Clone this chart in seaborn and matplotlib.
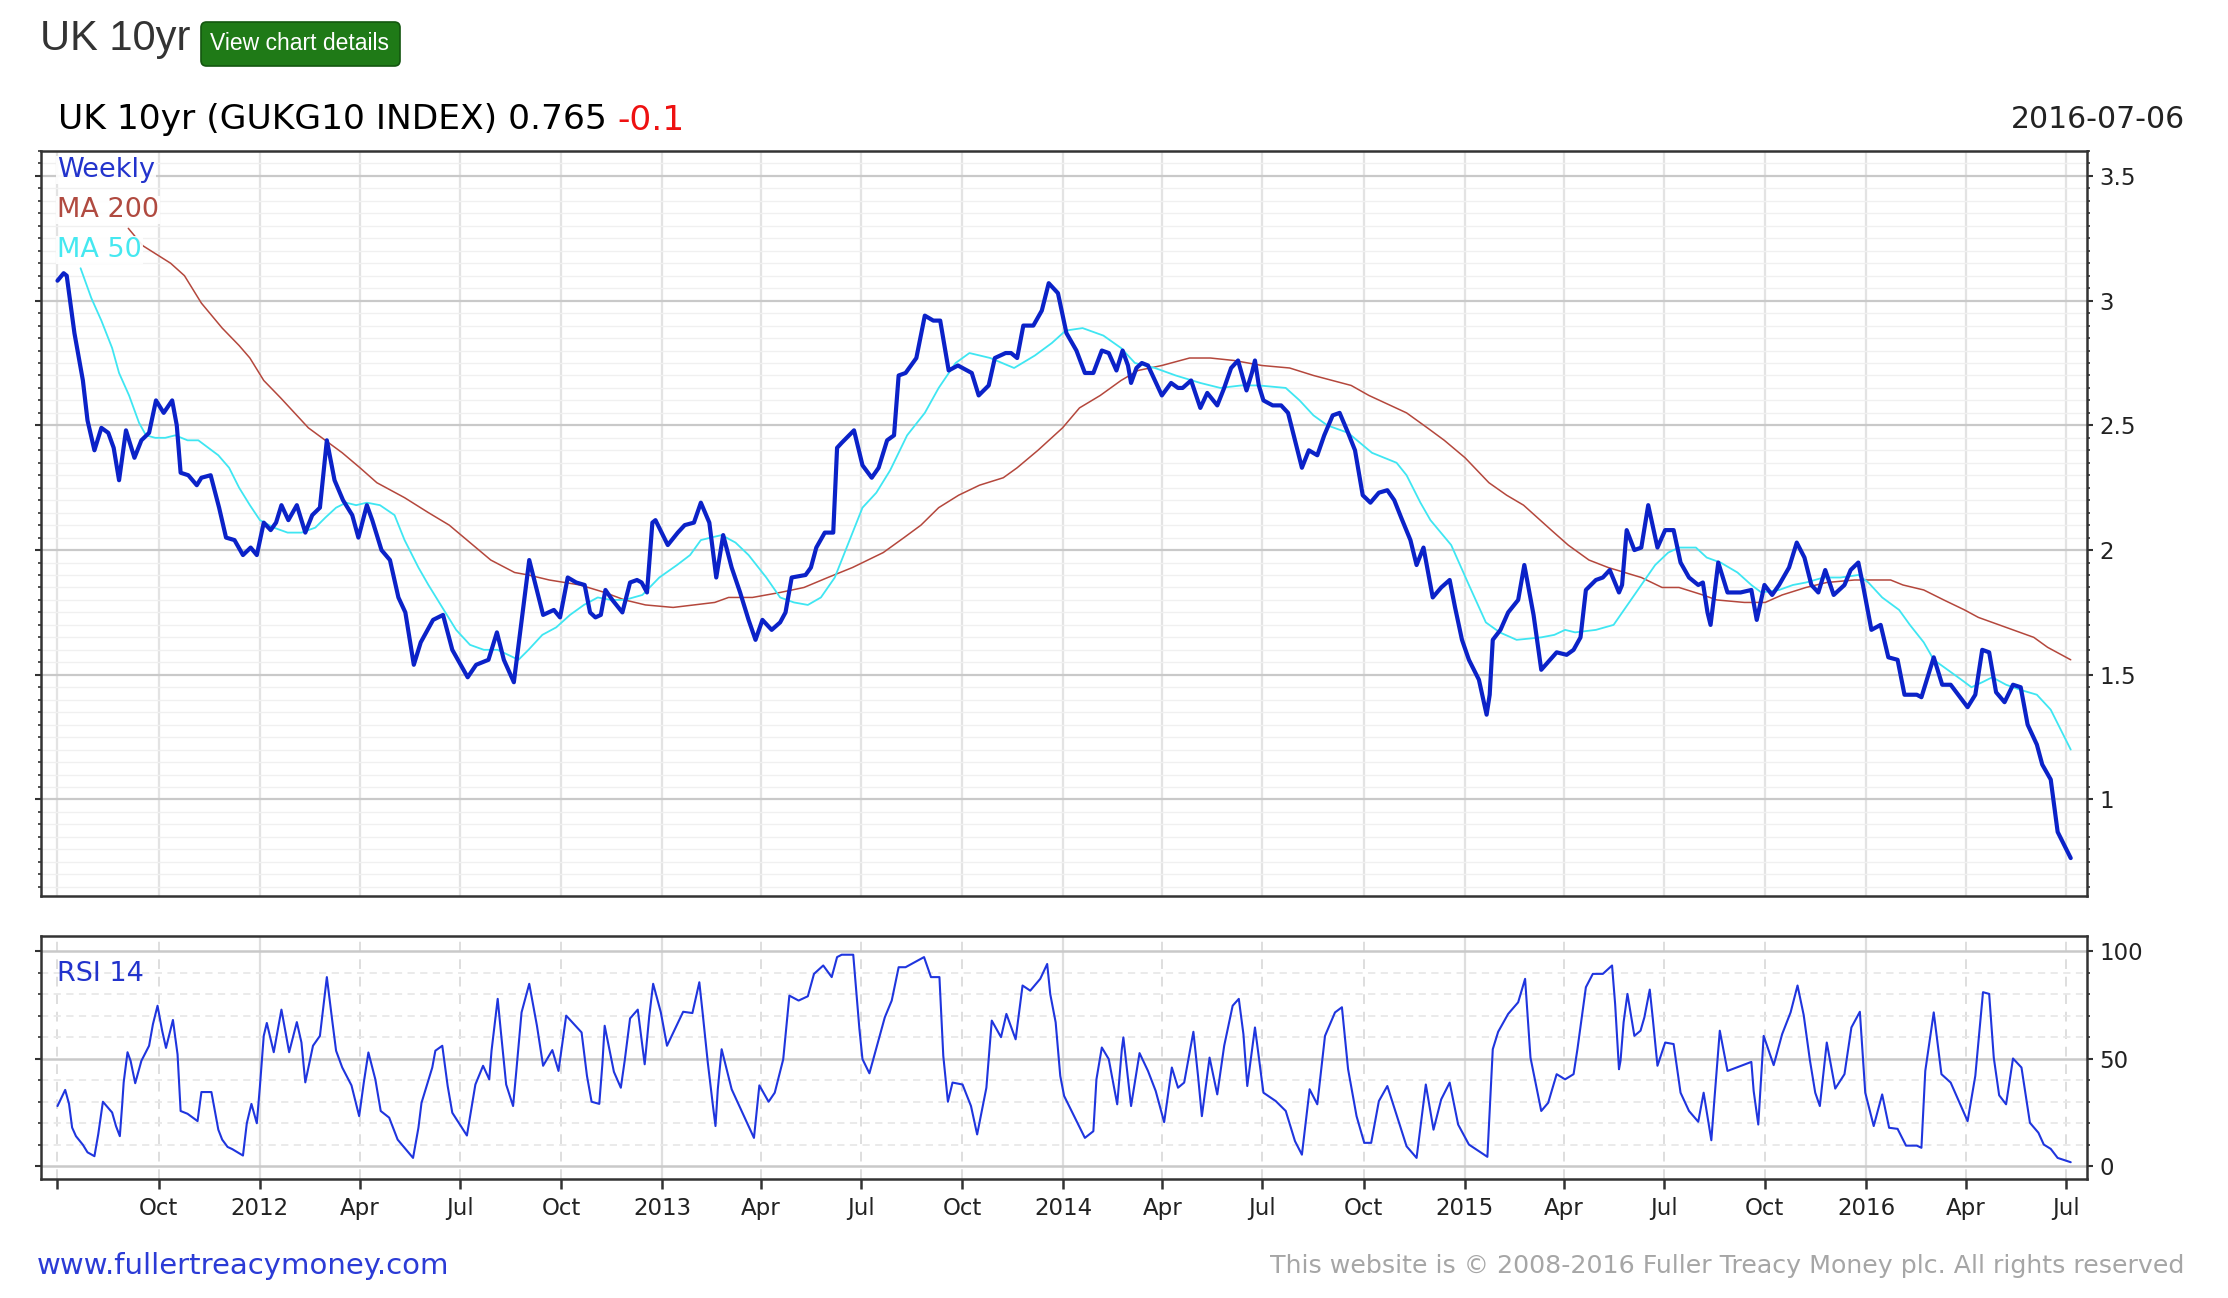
import numpy as np
import pandas as pd
import matplotlib
matplotlib.use("Agg")
import matplotlib.pyplot as plt
import matplotlib.dates as mdates
from matplotlib.ticker import MultipleLocator, FixedLocator, FuncFormatter
from matplotlib.patches import FancyBboxPatch
import seaborn as sns

sns.set_style("white")
plt.rcParams["font.family"] = ["DejaVu Sans"]

# ------------------------------------------------------------
# data: weeks counted from 2011-07-01
# ------------------------------------------------------------
START = pd.Timestamp("2011-07-01")

weekly_wk = [0.0, 0.8, 1.2, 2.2, 3.3, 3.9, 4.8, 5.7, 6.6, 7.3, 8.0, 8.9, 10.0, 10.9, 11.9, 12.8, 13.8,
             14.9, 15.5, 16.0, 17.0, 18.1, 18.7, 19.9, 21.0, 21.9, 23.0, 24.1, 25.1, 25.9, 26.8, 27.7,
             28.4, 29.1, 30.0, 31.1, 32.2, 33.1, 34.1, 35.0, 36.0, 37.1, 38.3, 39.1, 40.2, 40.9, 42.1,
             43.2, 44.3, 45.2, 46.3, 47.2, 48.8, 50.1, 51.3, 53.3, 54.4, 56.0, 57.1, 58.0, 59.3, 60.2,
             61.3, 62.2, 63.1, 64.5, 65.3, 66.3,
             67.4, 68.5, 69.2, 69.9, 70.6, 71.2, 72.1, 73.4, 74.4, 75.3, 75.9, 76.6, 77.3, 77.7, 79.3,
             80.6, 81.5, 82.7, 83.6, 84.7, 85.6, 86.5, 87.6, 88.7, 89.8, 90.7, 91.6, 92.8, 93.9, 94.6,
             95.4, 97.2, 97.9, 98.6, 99.7, 100.8, 101.3, 101.9, 103.5, 104.6, 105.8, 106.7, 107.8, 108.7,
             109.3, 110.2, 111.6, 112.7, 113.8, 114.7, 115.8, 117.0, 118.8, 119.7, 121.0, 121.8, 123.2,
             123.9, 124.7, 125.5, 126.8, 127.9, 128.8, 130.0, 131.1, 132.4,
             133.5, 134.6, 135.7, 136.6, 137.6, 138.4, 139.1, 139.5, 140.2, 140.9, 141.7, 142.6, 143.5,
             144.7, 145.6, 146.2, 147.3, 148.5, 149.4, 150.7, 151.6, 152.5, 153.4, 154.5, 155.2, 155.6,
             156.1, 156.7, 157.9, 159.0, 159.9, 160.8, 161.7, 162.6, 163.7, 164.6, 165.7, 166.6, 167.7,
             168.6, 169.6, 170.6, 171.7, 172.8, 173.7, 174.6, 175.8, 176.6, 177.5, 178.7, 179.8, 180.9,
             181.6, 182.5, 183.4, 184.7, 185.2, 185.7, 186.1, 186.5, 187.5, 188.5, 189.8, 190.6, 191.8,
             192.8, 194.8, 196.1, 197.0, 197.9, 198.6, 199.9, 200.8, 201.7, 202.9,
             203.3, 203.9, 204.9, 205.8, 206.7, 207.9, 208.9, 210.0, 210.9, 212.0, 213.2, 213.8, 214.4,
             214.8, 215.8, 217.0, 218.7, 220.1, 220.8, 221.8, 222.8, 223.7, 225.0, 226.0, 227.0, 227.9,
             228.8, 229.7, 230.8, 232.2, 233.0, 234.0, 234.6, 235.7, 236.9, 237.9, 239.1, 240.0, 241.6,
             242.2, 243.8, 244.9, 246.0, 248.2, 249.2, 250.1, 251.0, 251.9, 253.0, 254.1, 255.1, 256.0,
             257.2, 257.9, 259.0, 259.9, 261.6]
weekly_val = [3.08, 3.11, 3.10, 2.87, 2.68, 2.52, 2.40, 2.49, 2.47, 2.41, 2.28, 2.48, 2.37, 2.44, 2.47, 2.60, 2.55,
              2.60, 2.50, 2.31, 2.30, 2.26, 2.29, 2.30, 2.17, 2.05, 2.04, 1.98, 2.01, 1.98, 2.11, 2.08,
              2.11, 2.18, 2.12, 2.18, 2.07, 2.14, 2.17, 2.44, 2.28, 2.20, 2.14, 2.05, 2.18, 2.12, 2.00,
              1.96, 1.81, 1.75, 1.54, 1.63, 1.72, 1.74, 1.60, 1.49, 1.54, 1.56, 1.67, 1.56, 1.47, 1.69,
              1.96, 1.85, 1.74, 1.76, 1.73, 1.89,
              1.87, 1.86, 1.75, 1.73, 1.74, 1.84, 1.80, 1.75, 1.87, 1.88, 1.87, 1.83, 2.11, 2.12, 2.02,
              2.07, 2.10, 2.11, 2.19, 2.11, 1.89, 2.06, 1.93, 1.83, 1.72, 1.64, 1.72, 1.68, 1.71, 1.75,
              1.89, 1.90, 1.93, 2.01, 2.07, 2.07, 2.41, 2.43, 2.48, 2.34, 2.29, 2.33, 2.44, 2.46,
              2.70, 2.71, 2.77, 2.94, 2.92, 2.92, 2.72, 2.74, 2.71, 2.62, 2.66, 2.77, 2.79,
              2.79, 2.77, 2.90, 2.90, 2.96, 3.07, 3.03, 2.87, 2.80,
              2.71, 2.71, 2.80, 2.79, 2.72, 2.80, 2.74, 2.67, 2.73, 2.75, 2.74, 2.68, 2.62,
              2.67, 2.65, 2.65, 2.68, 2.57, 2.63, 2.58, 2.65, 2.73, 2.76, 2.64, 2.71, 2.76,
              2.66, 2.60, 2.58, 2.58, 2.55, 2.44, 2.33, 2.40, 2.38, 2.46, 2.54, 2.55, 2.47,
              2.40, 2.22, 2.19, 2.23, 2.24, 2.20, 2.13, 2.04, 1.94, 2.01, 1.81, 1.85, 1.88,
              1.77, 1.64, 1.56, 1.48, 1.41, 1.34, 1.42, 1.64, 1.68, 1.75, 1.80, 1.94, 1.74,
              1.52, 1.59, 1.58, 1.60, 1.65, 1.84, 1.88, 1.89, 1.92, 1.83,
              1.86, 2.08, 2.00, 2.01, 2.18, 2.01, 2.08, 2.08, 1.95, 1.89, 1.86, 1.87, 1.75,
              1.70, 1.95, 1.83, 1.83, 1.84, 1.72, 1.86, 1.82, 1.86, 1.93, 2.03, 1.97, 1.86,
              1.83, 1.92, 1.82, 1.86, 1.92, 1.95, 1.86, 1.68, 1.70, 1.57, 1.56, 1.42, 1.42,
              1.41, 1.57, 1.46, 1.46, 1.37, 1.42, 1.60, 1.59, 1.43, 1.39, 1.46, 1.45, 1.30,
              1.22, 1.14, 1.08, 0.87, 0.765]

ma200_wk = [9.2, 11.1, 14.7, 16.5, 18.7, 21.4, 23.6, 25.0, 26.8, 29.0, 32.6, 34.8, 37.0, 39.3, 41.5,
            45.1, 48.2, 50.9, 53.6, 56.3, 59.4, 61.2, 63.9, 67.9, 71.1, 73.7, 76.4, 80.0, 82.7, 85.4,
            87.2, 90.3, 93.9, 97.0, 100.1, 103.3, 107.3, 110.0, 112.2, 114.5, 117.1, 119.8, 122.9,
            124.7, 127.4, 130.6, 132.8, 135.5, 138.2, 140.4, 143.5, 147.1, 149.8, 152.9, 156.5, 160.1,
            163.2, 168.1, 170.4, 175.3, 178.0, 180.2, 182.9, 186.0, 188.3, 190.5, 194.1, 196.3, 199.0,
            201.5, 205.8, 208.5, 210.7, 213.8, 215.6, 219.2, 221.9, 224.1, 227.2, 229.9, 233.5, 236.2,
            238.2, 239.8, 242.5, 245.1, 247.8, 249.6, 254.1, 256.8, 258.6, 261.6]
ma200_val = [3.29, 3.22, 3.15, 3.10, 2.99, 2.89, 2.82, 2.77, 2.68, 2.61, 2.49, 2.44, 2.39, 2.33, 2.27,
             2.21, 2.15, 2.10, 2.03, 1.96, 1.91, 1.90, 1.88, 1.86, 1.83, 1.80, 1.78, 1.77, 1.78, 1.79,
             1.81, 1.81, 1.83, 1.85, 1.89, 1.93, 1.99, 2.05, 2.10, 2.17, 2.22, 2.26, 2.29,
             2.33, 2.40, 2.49, 2.57, 2.62, 2.68, 2.72, 2.74, 2.77, 2.77, 2.76, 2.74, 2.73,
             2.70, 2.66, 2.62, 2.55, 2.49, 2.44, 2.37, 2.27, 2.22, 2.18, 2.08, 2.02, 1.96,
             1.93, 1.89, 1.85, 1.85, 1.82, 1.80, 1.79, 1.79, 1.82, 1.85, 1.87, 1.88, 1.88,
             1.88, 1.86, 1.84, 1.80, 1.76, 1.73, 1.68, 1.65, 1.61, 1.56]

ma50_wk = [3.0, 4.4, 5.7, 7.1, 8.0, 9.3, 10.6, 11.5, 12.7, 14.0, 15.3, 16.9, 18.3, 19.6, 20.9, 22.3,
           23.6, 25.0, 26.3, 28.1, 29.9, 31.7, 33.5, 34.8, 36.2, 37.5, 38.8, 40.2, 41.9, 43.8, 45.1,
           46.9, 48.2, 50.0, 51.8, 53.6, 55.4, 57.2, 59.9, 61.2, 63.0, 64.8, 66.6, 68.4, 70.2, 71.9,
           73.7, 76.0, 78.2, 80.5, 82.2, 83.6, 84.9, 86.3, 88.1, 89.8, 92.1, 93.9, 95.7, 97.5, 99.2,
           101.0, 102.8, 104.6, 106.4, 108.2, 110.4, 112.7, 114.5, 116.7, 118.5, 121.2, 124.3, 127.0,
           129.2, 131.0, 133.2, 135.9, 138.2, 140.0, 142.6, 145.3, 148.5, 151.1, 153.8, 156.1, 159.6,
           161.4, 163.2, 165.0, 167.7, 170.8, 174.0, 175.3, 177.1, 178.4, 181.1, 183.4, 185.6, 187.4,
           189.6, 192.8, 194.5, 195.9, 197.2, 199.9, 202.2, 204.0, 205.8, 207.6, 209.3, 210.7, 212.9,
           214.3, 216.1, 218.3, 220.1, 221.4, 223.7, 225.5, 227.2, 229.5, 231.7, 234.0, 235.3, 237.1,
           239.3, 240.7, 242.5, 243.8, 245.6, 247.4, 248.7, 250.1, 251.4, 253.2, 255.0, 257.2, 259.0,
           261.6]
ma50_val = [3.13, 3.01, 2.92, 2.81, 2.71, 2.62, 2.51, 2.46, 2.45, 2.45, 2.46, 2.44, 2.44, 2.41, 2.38, 2.33,
            2.25, 2.18, 2.12, 2.09, 2.07, 2.07, 2.09, 2.13, 2.17, 2.19, 2.18, 2.19, 2.18, 2.14, 2.04,
            1.93, 1.86, 1.77, 1.68, 1.62, 1.60, 1.60, 1.56, 1.60, 1.66, 1.69, 1.74, 1.78, 1.81, 1.80,
            1.80, 1.82, 1.89, 1.94, 1.98, 2.04, 2.05, 2.06, 2.03, 1.98, 1.89, 1.81, 1.79, 1.78, 1.81,
            1.89, 2.03, 2.17, 2.23, 2.32, 2.46, 2.55, 2.65, 2.75, 2.79, 2.77, 2.73, 2.78,
            2.83, 2.88, 2.89, 2.86, 2.81, 2.75, 2.73, 2.70, 2.67, 2.65, 2.66, 2.66, 2.65,
            2.60, 2.54, 2.50, 2.47, 2.39, 2.35, 2.30, 2.19, 2.12, 2.02, 1.86, 1.71, 1.67,
            1.64, 1.65, 1.66, 1.68, 1.67, 1.68, 1.70, 1.78, 1.86, 1.94, 1.99, 2.01, 2.01,
            1.97, 1.95, 1.91, 1.86, 1.83, 1.84, 1.86, 1.87, 1.89, 1.89, 1.90, 1.87, 1.81,
            1.76, 1.70, 1.63, 1.56, 1.52, 1.48, 1.45, 1.47, 1.49, 1.46, 1.44, 1.42, 1.36,
            1.20]

rsi_wk = [0.0, 1.0, 1.5, 1.9, 2.4, 3.3, 3.9, 4.8, 5.3, 5.9, 7.1, 7.6, 8.1, 8.4, 8.6, 9.1, 9.5, 10.1,
          10.9, 11.9, 12.4, 13.0, 13.6, 14.1, 15.0, 15.6, 16.0, 16.9, 18.2, 18.7, 20.0, 20.9, 21.4,
          22.1, 22.7, 24.1, 24.6, 25.2, 25.9, 26.3, 26.8, 27.2, 28.1, 29.1, 30.1, 31.1, 31.7, 32.2,
          33.2, 34.1, 35.0, 35.7, 36.2, 37.0, 38.2, 39.2, 39.8, 40.4, 41.3, 42.0, 43.1, 44.2, 46.2,
          46.9, 47.3, 48.7, 49.1, 50.0, 50.7, 51.3, 53.2, 54.3, 55.3, 56.1, 56.4, 57.2, 57.6, 58.3,
          59.2, 59.6, 60.3, 61.3, 62.3, 63.1, 64.3, 65.1, 66.1, 68.1, 68.8, 69.4, 70.4, 70.8, 71.1,
          72.3, 73.2, 73.7, 74.4, 75.4, 76.3, 76.9, 77.4, 78.4, 79.2, 81.3, 82.5, 83.4, 83.8, 84.5,
          85.2, 85.5, 85.8, 86.3, 87.6, 90.5, 91.2, 92.4, 93.2, 94.3, 95.1, 96.3, 97.5, 98.3, 99.5,
          100.6, 101.3, 101.9, 103.4, 104.2, 104.6, 105.5, 107.5, 108.4, 109.3, 110.2, 111.8, 112.6,
          113.5, 114.6, 115.1, 115.7, 116.3, 117.6, 118.7, 119.5, 120.7, 121.4, 122.6, 123.3, 124.5,
          125.4, 126.4, 127.7, 128.6, 129.0, 129.7, 130.3, 130.8, 133.5, 134.6, 135.0, 135.7, 136.6,
          137.7, 138.3, 138.5, 139.5, 140.6, 141.7, 142.7, 143.8, 144.8, 145.6, 146.4, 147.6, 148.2,
          148.7, 149.7, 150.7, 151.6, 152.7, 153.5, 154.1, 154.6, 155.6, 156.7, 158.3, 159.6, 160.8,
          161.7, 162.7, 163.7, 164.7, 166.0, 166.9, 167.7, 168.8, 169.8, 170.7, 171.7, 172.8, 175.3,
          176.6, 177.8, 178.8, 179.8, 180.9, 182.0, 183.4, 184.7, 185.8, 186.5, 187.2, 188.5, 189.8,
          190.7, 191.4, 192.8, 193.7, 194.8, 195.9, 197.0, 197.5, 198.6, 199.5, 200.8, 202.0, 202.4,
          202.9, 203.1, 203.5, 204.0, 204.9, 205.7, 206.2, 206.9, 207.3, 207.9, 208.9, 210.0, 210.9,
          212.0, 213.2, 213.9, 214.9, 215.3, 216.0, 217.0, 220.1, 220.4, 221.0, 221.7, 223.0, 224.1,
          225.2, 226.1, 226.9, 227.7, 228.4, 229.0, 229.9, 231.0, 232.2, 233.1, 234.2, 234.9, 236.0,
          237.1, 238.0, 239.1, 240.2, 241.6, 242.2, 242.7, 243.8, 244.8, 246.0, 248.2, 249.2, 250.2,
          251.0, 251.6, 252.3, 253.2, 254.1, 255.2, 256.3, 257.4, 258.1, 259.0, 259.9, 261.6]
rsi_val = [28, 35.5, 29, 18, 14, 10, 6.5, 4.7, 15, 30, 25, 18.7, 14, 28.3, 39, 53, 49, 38.6,
           49, 56, 66, 74.6, 63, 55, 68, 52, 25.7, 24.4, 21, 34.5, 34.5, 17, 12.4,
           9, 8, 5, 20, 29, 20, 37, 60.6, 66.6, 53, 72.8, 53, 67, 57.5, 39,
           56, 60.6, 87.9, 67.7, 53.7, 45.9, 37.6, 23.3, 38.9, 52.9, 40.4, 25.7, 22.6, 12.4, 3.9,
           17.9, 29.5, 45.9, 53.7, 56, 37.3, 24.9, 14.3, 38, 46.7, 40.4, 53.7, 77.8, 63, 38,
           28, 43.5, 71.5, 84.8, 65.3, 46.7, 54, 44.3, 70, 62.2, 42, 30, 29, 47.4, 65.3,
           43.9, 36.5, 49, 68.7, 72.8, 47.4, 70, 84.8, 71.5, 56, 71.8, 71.2, 85.5, 72.3, 48.2,
           27.2, 18.7, 35.8, 54.4, 35.8, 13.2, 37.6, 30, 34.2, 49.7, 79.3, 77, 79, 89.4, 93.3,
           87.9, 97.2, 98.3, 98.3, 63.8, 49.8, 43.2, 69.2, 77, 92.5, 92.5, 95.6, 97.2,
           87.9, 87.9, 51.3, 30, 38.9, 38, 28, 14.8, 36.5, 67.7, 60, 70.8, 59,
           84, 81.6, 87.1, 94, 80, 66.9, 42, 32.7, 13.2, 16.3, 40.4, 55.2, 49.8,
           28.8, 54.4, 59.9, 28, 52.6, 44.3, 35, 20.5, 45.9, 36.5, 38.9, 62.5, 42,
           23.3, 50.5, 33.4, 56, 74.6, 77.8, 61.4, 37.3, 64.5, 34.2, 30.3, 25.7, 11.7,
           5.4, 35.8, 28.8, 60.6, 71.5, 73.9, 45.1, 23.3, 10.9, 10.9, 30.3, 37.3, 9.3,
           3.9, 38, 17, 31.1, 38.9, 19.4, 10.1, 7, 4.4, 54.4, 62.5, 70.8, 76.2,
           87.1, 50.5, 25.7, 29.5, 42.8, 40.4, 42.8, 54.4, 83.2, 89.4, 89.4, 93.3, 75.4,
           45.1, 49, 66.9, 80.1, 60.6, 63, 69.2, 82.1, 68.4, 46.7, 57.5, 56.8, 34.2,
           25.7, 20.7, 34.2, 12.1, 31.1, 63, 44.3, 48.5, 35, 19.4, 60.6, 47, 61.4,
           71.5, 84, 70.3, 49.5, 34.2, 28, 57.5, 36.1, 42.8, 64.5, 71.8, 34.2, 18.7,
           33.4, 17.9, 17.4, 9.6, 9.6, 8.6, 44.3, 71.5, 42.8, 38.9, 21, 42, 80.9,
           80.1, 50.5, 33, 28.8, 50.1, 45.9, 20.2, 15.6, 10.1, 8.1, 3.9, 1.9]

assert len(weekly_wk) == len(weekly_val)
assert len(ma200_wk) == len(ma200_val)
assert len(ma50_wk) == len(ma50_val)
assert len(rsi_wk) == len(rsi_val)


def to_frame(weeks, vals):
    dates = START + pd.to_timedelta(np.array(weeks) * 7.0, unit="D")
    return pd.DataFrame({"date": dates, "value": vals})


weekly = to_frame(weekly_wk, weekly_val)
ma200 = to_frame(ma200_wk, ma200_val)
ma50 = to_frame(ma50_wk, ma50_val)
rsi = to_frame(rsi_wk, rsi_val)

# ------------------------------------------------------------
# figure
# ------------------------------------------------------------
W, H = 2228, 1298
fig = plt.figure(figsize=(W / 100, H / 100), dpi=100)
fig.patch.set_facecolor("white")

ax = fig.add_axes([41 / W, 1 - 896 / H, 2046 / W, 745 / H])
ax2 = fig.add_axes([41 / W, 1 - 1179 / H, 2046 / W, 243 / H])

BLUE = "#0b22c8"
BROWN = "#b4473c"
CYAN = "#3fe6f2"

sns.lineplot(data=ma200, x="date", y="value", ax=ax, color=BROWN, lw=1.1,
             estimator=None, sort=False, zorder=3)
sns.lineplot(data=ma50, x="date", y="value", ax=ax, color=CYAN, lw=1.3,
             estimator=None, sort=False, zorder=3)
sns.lineplot(data=weekly, x="date", y="value", ax=ax, color=BLUE, lw=3.0,
             estimator=None, sort=False, zorder=4)
sns.lineplot(data=rsi, x="date", y="value", ax=ax2, color="#1f35de", lw=1.5,
             estimator=None, sort=False, zorder=3)

xmin = START - pd.Timedelta(days=15)
xmax = START + pd.Timedelta(days=1846)
years = mdates.YearLocator()
quarters = mdates.MonthLocator(bymonth=(4, 7, 10))


def minor_fmt(x, pos):
    d = mdates.num2date(x)
    if d.year == 2011 and d.month == 7:
        return ""
    return d.strftime("%b")


for a in (ax, ax2):
    a.set_xlim(xmin, xmax)
    a.set_xlabel("")
    a.set_ylabel("")
    a.xaxis.set_major_locator(years)
    a.xaxis.set_minor_locator(quarters)
    for s in a.spines.values():
        s.set_color("#333333")
        s.set_linewidth(1.8)
    a.set_axisbelow(True)

# main panel
ax.set_ylim(0.613, 3.60)
ax.yaxis.set_major_locator(FixedLocator([1, 1.5, 2, 2.5, 3, 3.5]))
ax.yaxis.set_minor_locator(MultipleLocator(0.05))
ax.yaxis.set_major_formatter(FuncFormatter(lambda v, p: f"{v:g}"))
ax.yaxis.grid(True, which="major", color="#c9c9c9", lw=1.6)
ax.yaxis.grid(True, which="minor", color="#f0f0f0", lw=1.0)
ax.xaxis.grid(True, which="both", color="#e3e3e3", lw=1.6)
ax.tick_params(axis="x", which="both", length=0, labelbottom=False)
ax.tick_params(axis="y", which="both", left=True, right=True, labelleft=False, labelright=True,
               direction="out", color="#333333")
ax.tick_params(axis="y", which="major", length=4, width=1.5, pad=5, labelsize=16.5,
               labelcolor="#222222")
ax.tick_params(axis="y", which="minor", length=2.5, width=1.2)

# RSI panel
ax2.set_ylim(-5.9, 107)
ax2.yaxis.set_major_locator(FixedLocator([0, 50, 100]))
ax2.yaxis.set_minor_locator(MultipleLocator(10))
ax2.yaxis.grid(True, which="major", color="#c9c9c9", lw=1.8)
ax2.yaxis.grid(True, which="minor", color="#e8e8e8", lw=1.3, ls=(0, (4, 3)))
ax2.xaxis.grid(True, which="major", color="#dedede", lw=1.6)
ax2.xaxis.grid(True, which="minor", color="#dedede", lw=1.4, ls=(0, (5, 4)))
ax2.xaxis.set_major_formatter(mdates.DateFormatter("%Y"))
ax2.xaxis.set_minor_formatter(FuncFormatter(minor_fmt))
ax2.tick_params(axis="x", which="both", bottom=True, length=7, width=1.8, pad=6,
                labelsize=16.5, labelcolor="#222222", color="#333333")
ax2.tick_params(axis="y", which="both", left=True, right=True, labelleft=False, labelright=True,
                direction="out", color="#333333")
ax2.tick_params(axis="y", which="major", length=4, width=1.5, pad=5, labelsize=16.5,
                labelcolor="#222222")
ax2.tick_params(axis="y", which="minor", length=2.5, width=1.2)

# legend-like labels inside the panels
box = dict(facecolor="white", edgecolor="none", pad=0.5, alpha=0.9)
ax.text(0.0078, 0.9745, "Weekly", transform=ax.transAxes, color="#2233cc", fontsize=19.5,
        va="center", ha="left", bbox=box, zorder=6)
ax.text(0.0078, 0.9208, "MA 200", transform=ax.transAxes, color="#b04a40", fontsize=19.5,
        va="center", ha="left", bbox=box, zorder=6)
ax.text(0.0078, 0.8671, "MA 50", transform=ax.transAxes, color="#45e8f0", fontsize=19.5,
        va="center", ha="left", bbox=box, zorder=6)
ax2.text(0.0078, 0.842, "RSI 14", transform=ax2.transAxes, color="#2233cc", fontsize=19.5,
         va="center", ha="left", zorder=6)

# page header
fig.text(40 / W, 1 - 39 / H, "UK 10yr", fontsize=30, color="#333333",
         family=["Liberation Sans", "DejaVu Sans"], va="center", ha="left")
btn = FancyBboxPatch((201 / W, 1 - 66 / H), 199 / W, 44 / H, transform=fig.transFigure,
                     boxstyle="round,pad=0,rounding_size=0.0025", mutation_aspect=W / H,
                     facecolor="#1f7a17", edgecolor="#13560f", lw=1.2)
fig.patches.append(btn)
fig.text(300 / W, 1 - 44 / H, "View chart details", fontsize=16.5, color="white",
         family=["Liberation Sans", "DejaVu Sans"], va="center", ha="center")

t1 = fig.text(58 / W, 1 - 120 / H, "UK 10yr (GUKG10 INDEX) 0.765", fontsize=24.8,
              color="black", va="center", ha="left")
ax.annotate("-0.1", xy=(1, 0), xycoords=t1, xytext=(7.8, 0), textcoords="offset points",
            fontsize=24.8, color="#ee1111", va="bottom", ha="left", annotation_clip=False)
fig.text(2185 / W, 1 - 120 / H, "2016-07-06", fontsize=21.5, color="#222222",
         va="center", ha="right")

# footer
fig.text(37 / W, 1 - 1266 / H, "www.fullertreacymoney.com", fontsize=21, color="#2b3bd6",
         va="center", ha="left")
fig.text(2184 / W, 1 - 1266 / H,
         "This website is \u00a9 2008-2016 Fuller Treacy Money plc. All rights reserved",
         fontsize=18.2, color="#a6a6a6", va="center", ha="right")

fig.savefig("out.png", dpi=100, facecolor="white")
